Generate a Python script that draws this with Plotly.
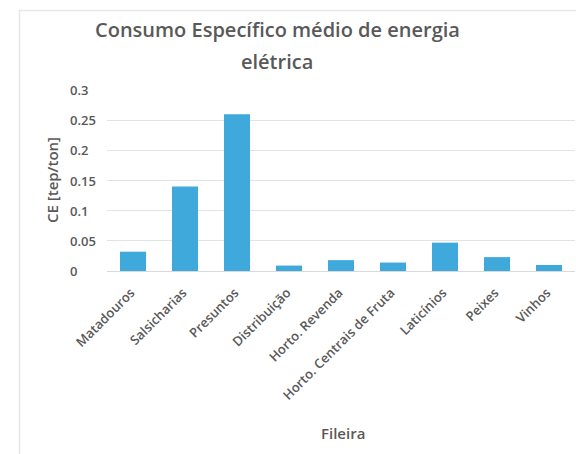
import plotly.graph_objects as go

categories = ["Matadouros", "Salsicharias", "Presuntos", "Distribuição",
              "Horto. Revenda", "Horto. Centrais de Fruta", "Laticínios",
              "Peixes", "Vinhos"]
ce_values = [0.032, 0.14, 0.26, 0.009, 0.018, 0.014, 0.047, 0.023, 0.01]
y_ticks = [0, 0.05, 0.1, 0.15, 0.2, 0.25, 0.3]
y_tick_labels = ["0", "0.05", "0.1", "0.15", "0.2", "0.25", "0.3"]

W, H = 576, 454
ML, MR, MT, MB = 107, 1, 90, 183
pw, ph = W - ML - MR, H - MT - MB

text_color = "#595959"
font_family = "Open Sans, sans-serif"


def px_x(px):
    return (px - ML) / pw


def px_y(py):
    return (H - MB - py) / ph


fig = go.Figure(go.Bar(
    x=categories,
    y=ce_values,
    marker=dict(color="#3fa9dc", line=dict(width=0)),
    hoverinfo="x+y",
))

fig.update_layout(
    width=W, height=H,
    margin=dict(l=ML, r=MR, t=MT, b=MB),
    paper_bgcolor="white",
    plot_bgcolor="white",
    bargap=0.5,
    showlegend=False,
    font=dict(family=font_family, color=text_color, size=12),
    xaxis=dict(
        tickangle=-45,
        tickfont=dict(size=13, color=text_color, weight=600),
        showgrid=False,
        showline=True, linecolor="#d9d9d9", linewidth=1,
        ticks="", ticklabelstandoff=8, ticklabelshift=-2,
    ),
    yaxis=dict(
        range=[0, 0.3],
        tickvals=y_ticks,
        showticklabels=False,
        showgrid=True, gridcolor="#e3e3e3", gridwidth=1,
        zeroline=False,
        ticks="",
    ),
)

# y tick labels, left-aligned in a column
for val, lab in zip(y_ticks, y_tick_labels):
    fig.add_annotation(
        text=lab, xref="paper", yref="y",
        x=px_x(68), y=val, xanchor="left", yanchor="middle",
        showarrow=False,
        font=dict(size=13, color=text_color, family=font_family, weight=600),
    )

# chart title (two lines)
for txt, yc in [("Consumo Específico médio de energia", 30), ("elétrica", 62)]:
    fig.add_annotation(
        text=txt, xref="paper", yref="paper",
        x=px_x(277), y=px_y(yc), xanchor="center", yanchor="middle",
        showarrow=False,
        font=dict(size=20, color=text_color, family=font_family, weight=600),
    )

# axis titles
fig.add_annotation(
    text="CE [tep/ton]", xref="paper", yref="paper",
    x=px_x(52), y=px_y(180), xanchor="center", yanchor="middle",
    textangle=-90, showarrow=False,
    font=dict(size=15, color=text_color, family=font_family, weight=600),
)
fig.add_annotation(
    text="Fileira", xref="paper", yref="paper",
    x=px_x(343), y=px_y(433), xanchor="center", yanchor="middle",
    showarrow=False,
    font=dict(size=15, color=text_color, family=font_family, weight=600),
)

# light frame around the chart area
fig.add_shape(
    type="rect", xref="paper", yref="paper",
    x0=px_x(19.5), x1=px_x(W + 20),
    y0=px_y(H + 20), y1=px_y(10.5),
    line=dict(color="#e6e6e6", width=1.5),
    fillcolor="rgba(0,0,0,0)", layer="below",
)

fig.write_html("out.html")
